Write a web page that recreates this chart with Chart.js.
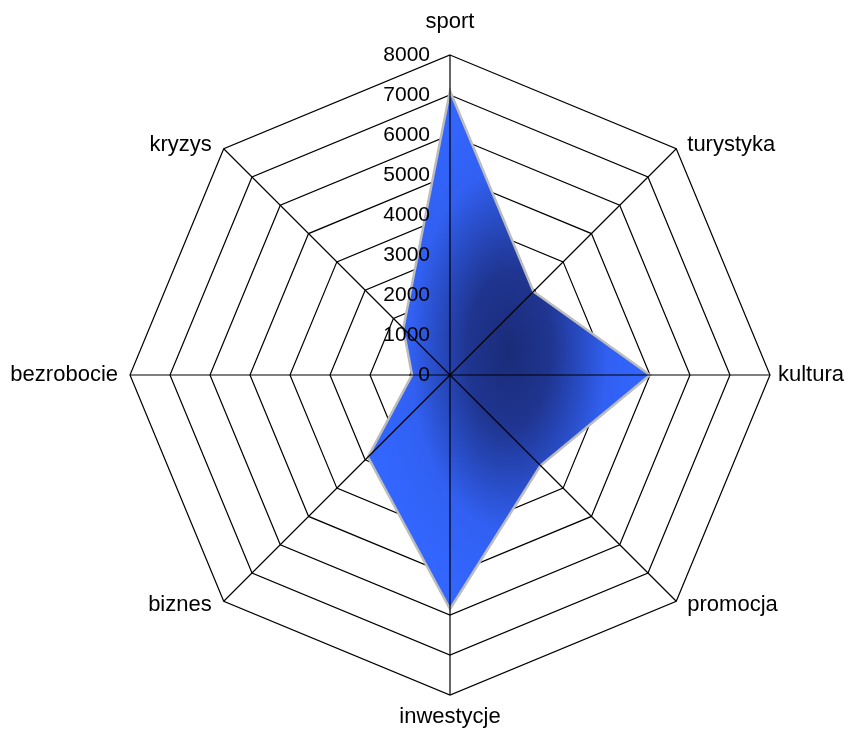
<!DOCTYPE html>
<html>
<head>
<meta charset="utf-8">
<script src="https://cdn.jsdelivr.net/npm/chart.js@4/dist/chart.umd.min.js"></script>
<style>
  html, body { margin: 0; padding: 0; background: #ffffff; }
  #wrap { width: 849px; height: 733px; }
</style>
</head>
<body>
<div id="wrap"><canvas id="c" width="849" height="733"></canvas></div>
<script>
// ---- data ----
const categories = ['sport', 'turystyka', 'kultura', 'promocja', 'inwestycje', 'biznes', 'bezrobocie', 'kryzys'];
const seriesValues = [7100, 2950, 5000, 3200, 5850, 2900, 950, 1650];
const tickValues = [0, 1000, 2000, 3000, 4000, 5000, 6000, 7000, 8000];
const tickLabels = ['0', '1000', '2000', '3000', '4000', '5000', '6000', '7000', '8000'];

const FONT = '"Liberation Sans", Arial, sans-serif';

// elliptical radial gradient fill built on the polygon's bounding box
function gradientFill(context) {
  const chart = context.chart;
  const scale = chart.scales && chart.scales.r;
  if (!scale || !chart.chartArea || !scale.drawingArea) return '#3366ff';
  let minX = Infinity, maxX = -Infinity, minY = Infinity, maxY = -Infinity;
  seriesValues.forEach((v, i) => {
    const p = scale.getPointPositionForValue(i, v);
    minX = Math.min(minX, p.x); maxX = Math.max(maxX, p.x);
    minY = Math.min(minY, p.y); maxY = Math.max(maxY, p.y);
  });
  const off = document.createElement('canvas');
  off.width = chart.width; off.height = chart.height;
  const g = off.getContext('2d');
  g.translate((minX + maxX) / 2, (minY + maxY) / 2);
  g.scale((maxX - minX) / 2, (maxY - minY) / 2);
  const grad = g.createRadialGradient(0, 0, 0, 0, 0, 1);
  grad.addColorStop(0, '#1a2b78');
  grad.addColorStop(0.3, '#1f3590');
  grad.addColorStop(0.7, '#3160f2');
  grad.addColorStop(1, '#3366ff');
  g.fillStyle = grad;
  g.fillRect(-20, -20, 40, 40);
  return chart.ctx.createPattern(off, 'no-repeat');
}

const overlay = {
  id: 'overlay',
  afterDatasetsDraw(chart) {
    const scale = chart.scales.r;
    const ctx = chart.ctx;
    const cx = scale.xCenter, cy = scale.yCenter;
    ctx.save();
    // angle lines on top of fill
    ctx.strokeStyle = '#000000';
    ctx.lineWidth = 1.2;
    categories.forEach((c, i) => {
      const p = scale.getPointPosition(i, scale.drawingArea);
      ctx.beginPath();
      ctx.moveTo(cx, cy);
      ctx.lineTo(p.x, p.y);
      ctx.stroke();
    });
    // tick labels
    ctx.fillStyle = '#000000';
    ctx.font = '21px ' + FONT;
    ctx.textAlign = 'right';
    ctx.textBaseline = 'middle';
    tickValues.forEach((v, i) => {
      const y = cy - scale.getDistanceFromCenterForValue(v);
      ctx.fillText(tickLabels[i], cx - 20, y);
    });
    // point labels
    ctx.font = '22px ' + FONT;
    categories.forEach((c, i) => {
      const p = scale.getPointPosition(i, scale.drawingArea);
      const dx = p.x - cx, dy = p.y - cy;
      let x = p.x, y = p.y, align = 'center';
      if (Math.abs(dx) < 1) {
        y = dy < 0 ? p.y - 33 : p.y + 22;
      } else if (Math.abs(dy) < 1) {
        if (dx > 0) { align = 'left'; x = p.x + 8; }
        else { align = 'right'; x = p.x - 12; }
      } else {
        if (dx > 0) { align = 'left'; x = p.x + 11; }
        else { align = 'right'; x = p.x - 12; }
        y = dy < 0 ? p.y - 4 : p.y + 4;
      }
      ctx.textAlign = align;
      ctx.fillText(c, x, y);
    });
    ctx.restore();
  }
};

new Chart(document.getElementById('c'), {
  type: 'radar',
  data: {
    labels: categories,
    datasets: [{
      data: seriesValues,
      backgroundColor: gradientFill,
      borderColor: '#bcbcbc',
      borderWidth: 2.5,
      pointRadius: 0,
      pointHoverRadius: 0,
      fill: true,
      tension: 0
    }]
  },
  options: {
    responsive: false,
    animation: false,
    devicePixelRatio: 1,
    layout: { padding: { left: 130, right: 79, top: 55, bottom: 38 } },
    plugins: { legend: { display: false }, tooltip: { enabled: false } },
    scales: {
      r: {
        min: 0,
        max: 8000,
        ticks: { stepSize: 1000, display: false },
        grid: { color: '#000000', lineWidth: 1.2 },
        angleLines: { display: false },
        pointLabels: { display: false }
      }
    }
  },
  plugins: [overlay]
});
</script>
</body>
</html>
